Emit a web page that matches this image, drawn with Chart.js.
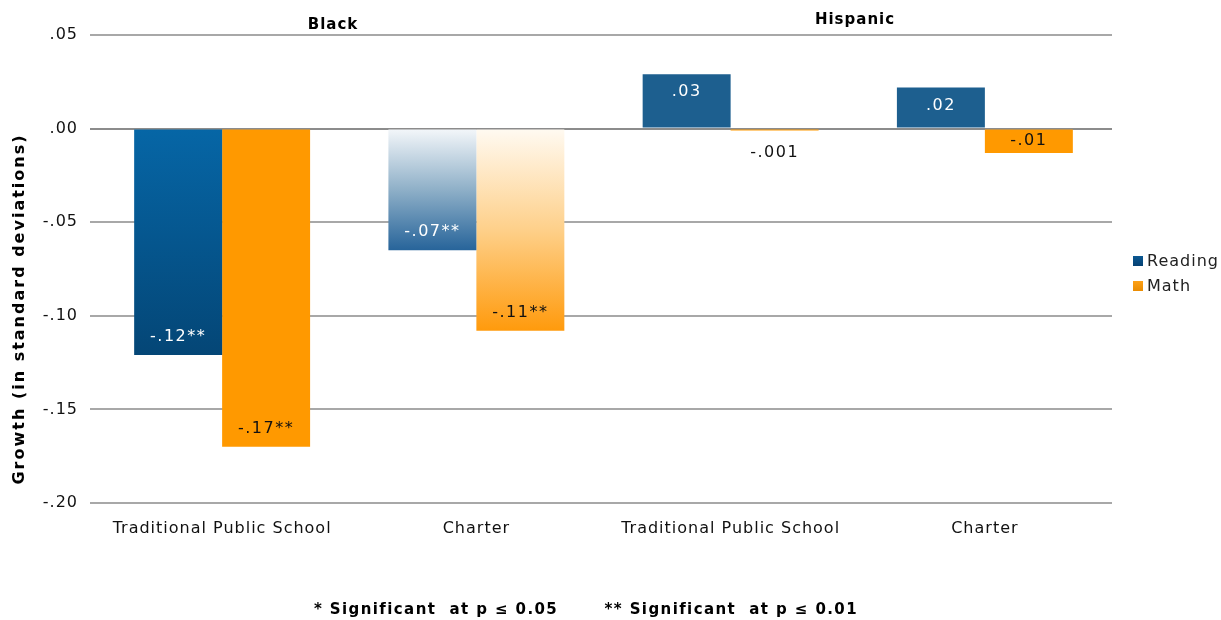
<!DOCTYPE html>
<html>
<head>
<meta charset="utf-8">
<script src="https://cdn.jsdelivr.net/npm/chart.js@4"></script>
<style>
  html, body { margin: 0; padding: 0; background: #fff; }
  #wrap { width: 1221px; height: 620px; position: relative; }
</style>
</head>
<body>
<div id="wrap"><canvas id="growth-chart"></canvas></div>
<script>
// Chart data
const categories = ['Traditional Public School', 'Charter', 'Traditional Public School', 'Charter'];
const groups = ['Black', 'Hispanic'];
const readingValues = [-0.121, -0.065, 0.029, 0.022];
const mathValues = [-0.170, -0.108, -0.001, -0.013];
const readingLabels = ['-.12**', '-.07**', '.03', '.02'];
const mathLabels = ['-.17**', '-.11**', '-.001', '-.01'];
const yTicks = [0.05, 0, -0.05, -0.10, -0.15, -0.20];
const footnote = '* Significant  at p \u2264 0.05       ** Significant  at p \u2264 0.01';

const FONT = '"DejaVu Sans", Verdana, sans-serif';

// Bar fills: each bar has its own look
function readingFill(context) {
    const chart = context.chart;
    const i = context.dataIndex;
    if (!chart.chartArea) return '#1d5f8f';
    const y = chart.scales.y;
    const y0 = y.getPixelForValue(0);
    const y1 = y.getPixelForValue(readingValues[i]);
    const g = chart.ctx.createLinearGradient(0, Math.min(y0, y1), 0, Math.max(y0, y1));
    if (i === 0) {
        g.addColorStop(0, '#0666a6');
        g.addColorStop(1, '#044676');
        return g;
    }
    if (i === 1) {
        g.addColorStop(0, '#f4f7fa');
        g.addColorStop(0.5, '#8fb0c8');
        g.addColorStop(1, '#27649a');
        return g;
    }
    return '#1d5f8f';
}

function mathFill(context) {
    const chart = context.chart;
    const i = context.dataIndex;
    if (i !== 1 || !chart.chartArea) return '#ff9900';
    const y = chart.scales.y;
    const y0 = y.getPixelForValue(0);
    const y1 = y.getPixelForValue(mathValues[i]);
    const g = chart.ctx.createLinearGradient(0, y0, 0, y1);
    g.addColorStop(0, '#fffaf2');
    g.addColorStop(0.5, '#fed08a');
    g.addColorStop(1, '#ff9a0c');
    return g;
}

// wide letter spacing like the original
const spacingPlugin = {
    id: 'spacing',
    beforeUpdate(chart) { chart.ctx.letterSpacing = '1px'; },
    beforeLayout(chart) { chart.ctx.letterSpacing = '1px'; },
    beforeDraw(chart) { chart.ctx.letterSpacing = '1px'; }
};

// Value labels, group headers, legend, axis title and footnote
const extrasPlugin = {
    id: 'extras',
    afterDatasetsDraw(chart) {
        const ctx = chart.ctx;
        const y = chart.scales.y;
        const y0 = y.getPixelForValue(0);

        ctx.save();
        ctx.textAlign = 'center';
        ctx.textBaseline = 'middle';
        ctx.font = '16px ' + FONT;
        ctx.letterSpacing = '1.5px';
        [[readingValues, readingLabels], [mathValues, mathLabels]].forEach(function(pair, ds) {
            const meta = chart.getDatasetMeta(ds);
            meta.data.forEach(function(bar, i) {
                const v = pair[0][i];
                const end = y.getPixelForValue(v);
                const len = Math.abs(end - y0);
                const dir = v < 0 ? -1 : 1;
                let ty;
                if (len < 8) {
                    ty = end + 22;
                    ctx.fillStyle = '#111';
                } else {
                    ty = end + dir * Math.min(18, len / 2);
                    ctx.fillStyle = ds === 0 ? '#ffffff' : '#111';
                }
                ctx.fillText(pair[1][i], bar.x, ty);
            });
        });
        ctx.restore();

        ctx.save();
        ctx.fillStyle = '#000';
        ctx.textAlign = 'center';
        ctx.textBaseline = 'middle';
        ctx.letterSpacing = '1px';
        ctx.font = 'bold 15px ' + FONT;
        ctx.fillText(groups[0], 333, 25);
        ctx.fillText(groups[1], 855, 20);

        // footnote
        ctx.font = 'bold 15px ' + FONT;
        ctx.letterSpacing = '1.4px';
        ctx.fillText(footnote, 586, 610);

        // y axis title
        ctx.save();
        ctx.translate(20, 309);
        ctx.rotate(-Math.PI / 2);
        ctx.font = 'bold 16px ' + FONT;
        ctx.letterSpacing = '2px';
        ctx.fillText('Growth (in standard deviations)', 0, 0);
        ctx.restore();

        // legend
        const items = [['Reading', '#0b5a95', '#063f70'], ['Math', '#ffa31a', '#e88a00']];
        ctx.textAlign = 'left';
        ctx.letterSpacing = '1px';
        ctx.font = '16px ' + FONT;
        items.forEach(function(it, k) {
            const cy = 261 + k * 25;
            const g = ctx.createLinearGradient(0, cy - 6, 0, cy + 6);
            g.addColorStop(0, it[1]);
            g.addColorStop(1, it[2]);
            ctx.fillStyle = g;
            ctx.fillRect(1133, cy - 5, 10, 10);
            ctx.fillStyle = '#222';
            ctx.fillText(it[0], 1147, cy + 1);
        });
        ctx.restore();
    }
};

new Chart(document.getElementById('growth-chart'), {
    type: 'bar',
    data: {
        labels: categories,
        datasets: [
            {
                label: 'Reading',
                data: readingValues,
                backgroundColor: readingFill,
                borderWidth: 0,
                categoryPercentage: 0.692,
                barPercentage: 1.0
            },
            {
                label: 'Math',
                data: mathValues,
                backgroundColor: mathFill,
                borderWidth: 0,
                categoryPercentage: 0.692,
                barPercentage: 1.0
            }
        ]
    },
    options: {
        responsive: true,
        maintainAspectRatio: false,
        animation: false,
        layout: {
            padding: { top: 35, right: 109, left: 0, bottom: 0 }
        },
        plugins: {
            legend: { display: false },
            tooltip: { enabled: false }
        },
        scales: {
            x: {
                grid: { display: false },
                border: { display: false },
                ticks: {
                    color: '#111',
                    font: { family: FONT, size: 16 },
                    padding: 8
                },
                afterFit: function(scale) { scale.height = 117; }
            },
            y: {
                min: -0.20,
                max: 0.05,
                afterBuildTicks: function(scale) {
                    scale.ticks = yTicks.map(function(v) { return { value: v }; });
                },
                border: { display: false },
                grid: {
                    color: function(c) { return c.tick && c.tick.value === 0 ? '#8c8c8c' : '#a8a8a8'; },
                    lineWidth: 2,
                    tickLength: 5
                },
                ticks: {
                    color: '#111',
                    font: { family: FONT, size: 16 },
                    padding: 12,
                    callback: function(v) {
                        const s = Math.abs(v).toFixed(2).replace(/^0/, '');
                        return (v < 0 ? '-' : '') + s;
                    }
                },
                afterFit: function(scale) { scale.width = 95; }
            }
        }
    },
    plugins: [spacingPlugin, extrasPlugin]
});
</script>
</body>
</html>
